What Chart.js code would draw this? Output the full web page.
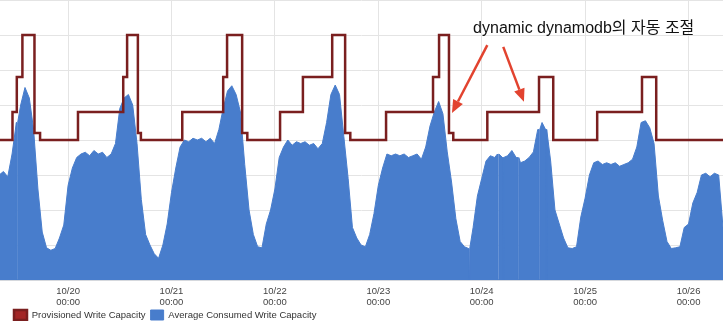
<!DOCTYPE html>
<html>
<head>
<meta charset="utf-8">
<script src="https://cdn.jsdelivr.net/npm/chart.js@4.4.0/dist/chart.umd.min.js"></script>
<style>
  html, body { margin: 0; padding: 0; background: #fff; }
  #wrap { width: 723px; height: 327px; position: relative; }
</style>
</head>
<body>
<div id="wrap"><canvas id="capacityChart"></canvas></div>
<script>
// hours counted from 10/20 00:00
const startHour = -16;
const axisMin = -15.8;
const axisMax = 152;

const dayHours = [0, 24, 48, 72, 96, 120, 144];
const dayLabels = ['10/20', '10/21', '10/22', '10/23', '10/24', '10/25', '10/26'];

// average consumed write capacity, one value per hour from startHour
const consumed = [
    3.0, 3.1, 2.95, 3.6, 4.5, 5.0, 5.5, 5.2, 4.3, 2.6, 1.37, 0.92, 0.85, 0.9, 1.2, 1.57,
    2.7, 3.2, 3.5, 3.6, 3.65, 3.55, 3.7, 3.6, 3.65, 3.5, 3.6, 3.9, 4.9, 5.2, 5.3, 5.0, 3.9, 2.3, 1.3, 1.0, 0.75, 0.62, 1.0, 1.6,
    2.5, 3.2, 3.8, 4.0, 3.95, 4.05, 4.0, 4.05, 3.95, 4.05, 3.9, 4.3, 4.9, 5.4, 5.55, 5.3, 4.8, 3.3, 2.0, 1.3, 0.95, 0.92, 1.6, 2.0,
    2.6, 3.5, 3.8, 4.0, 3.85, 3.95, 3.9, 3.95, 3.85, 3.9, 3.75, 3.9, 4.5, 5.3, 5.57, 5.3, 4.1, 2.9, 1.5, 1.2, 1.0, 0.95, 1.3, 1.9,
    2.7, 3.2, 3.6, 3.55, 3.6, 3.55, 3.6, 3.5, 3.55, 3.6, 3.45, 3.8, 4.4, 4.8, 5.1, 4.75, 3.66, 2.8, 1.75, 1.1, 0.95, 0.9, 1.5, 2.4,
    2.9, 3.4, 3.55, 3.5, 3.6, 3.5, 3.55, 3.7, 3.5, 3.35, 3.4, 3.5, 3.66, 4.3, 4.5, 4.3, 3.4, 2.0, 1.6, 1.2, 0.92, 0.9, 0.95, 1.8,
    2.34, 3.0, 3.35, 3.4, 3.3, 3.35, 3.3, 3.35, 3.25, 3.3, 3.35, 3.45, 3.8, 4.5, 4.55, 4.35, 3.9, 2.4, 1.7, 1.1, 0.9, 0.92, 0.95, 1.5,
    1.6, 2.2, 2.5, 3.0, 3.05, 2.95, 3.05, 3.0, 1.5
];

// short gaps where no data was reported
const dropoutHours = [-11.84, 93.08, 99.8, 100.97, 104.46, 109.33, 110.96];

// provisioned write capacity: level at the start, then each change
const provStart = 4.0;
const provChangeHours = [-12.9, -11.9, -10.6, -7.8, -6.5, 2.3, 12.8, 13.7, 16.2, 16.9,
    26.5, 36.0, 36.9, 40.4, 41.6, 49.2, 54.5, 61.3, 64.3, 65.5,
    73.8, 84.7, 86.1, 88.4, 89.4, 97.3, 109.3, 112.6, 122.8, 133.2, 136.5];
const provLevels = [4.8, 5.8, 7.0, 4.2, 4.0, 4.8, 5.8, 7.0, 4.2, 4.0,
    4.8, 5.8, 7.0, 4.2, 4.0, 4.8, 5.8, 7.0, 4.2, 4.0,
    4.8, 5.8, 7.0, 4.2, 4.0, 4.8, 5.8, 4.0, 4.8, 5.8, 4.0];

const noteText = 'dynamic dynamodb의 자동 조절';
const notePos = [94.0, 7.05];
// [fromHour, fromValue, toHour, toValue]
const arrows = [
    [97.3, 6.71, 89.1, 4.77],
    [101.0, 6.66, 105.8, 5.09]
];

// build point lists
let consumedPoints = consumed.map((v, i) => ({ x: startHour + i, y: v }));
dropoutHours.forEach(h => {
    let v = consumed[Math.round(h - startHour)];
    consumedPoints.push({ x: h - 0.14, y: v }, { x: h - 0.1, y: 0 }, { x: h + 0.1, y: 0 }, { x: h + 0.14, y: v });
});
consumedPoints.sort((a, b) => a.x - b.x);

let provPoints = [{ x: axisMin, y: provStart }];
let level = provStart;
provChangeHours.forEach((h, i) => {
    provPoints.push({ x: h, y: level });
    level = provLevels[i];
    provPoints.push({ x: h, y: level });
});
provPoints.push({ x: axisMax, y: level });

// text + red arrows
const notePlugin = {
    id: 'notePlugin',
    afterDatasetsDraw(chart) {
        let ctx = chart.ctx;
        let xs = chart.scales.x;
        let ys = chart.scales.y;
        ctx.save();
        ctx.font = '16px "Liberation Sans", "Noto Sans CJK KR", sans-serif';
        ctx.fillStyle = '#111';
        ctx.textBaseline = 'alphabetic';
        ctx.fillText(noteText, xs.getPixelForValue(notePos[0]), ys.getPixelForValue(notePos[1]));

        ctx.strokeStyle = '#e2432f';
        ctx.fillStyle = '#e2432f';
        ctx.lineWidth = 2.5;
        arrows.forEach(a => {
            let x1 = xs.getPixelForValue(a[0]), y1 = ys.getPixelForValue(a[1]);
            let x2 = xs.getPixelForValue(a[2]), y2 = ys.getPixelForValue(a[3]);
            let ang = Math.atan2(y2 - y1, x2 - x1);
            let headLen = 13, headW = 5.5;
            let bx = x2 - headLen * Math.cos(ang), by = y2 - headLen * Math.sin(ang);
            ctx.beginPath();
            ctx.moveTo(x1, y1);
            ctx.lineTo(bx, by);
            ctx.stroke();
            ctx.beginPath();
            ctx.moveTo(x2, y2);
            ctx.lineTo(bx + headW * Math.sin(ang), by - headW * Math.cos(ang));
            ctx.lineTo(bx - headW * Math.sin(ang), by + headW * Math.cos(ang));
            ctx.closePath();
            ctx.fill();
        });
        ctx.restore();
    }
};

// move the legend a little to the right
const legendNudge = {
    id: 'legendNudge',
    afterLayout(chart) {
        chart.legend.left += 9;
        chart.legend.right += 9;
    }
};

let ctx = document.getElementById('capacityChart').getContext('2d');
let capacityChart = new Chart(ctx, {
    type: 'line',
    data: {
        datasets: [{
            label: 'Provisioned Write Capacity',
            data: provPoints,
            borderColor: '#7a1f1f',
            backgroundColor: '#a32626',
            borderWidth: 2.5,
            pointRadius: 0,
            fill: false
        }, {
            label: 'Average Consumed Write Capacity',
            data: consumedPoints,
            borderColor: '#487dcc',
            backgroundColor: '#487dcc',
            borderWidth: 1,
            pointRadius: 0,
            fill: 'origin'
        }]
    },
    options: {
        responsive: true,
        maintainAspectRatio: false,
        animation: false,
        layout: { padding: { bottom: 6 } },
        plugins: {
            legend: {
                position: 'bottom',
                align: 'start',
                maxHeight: 16,
                labels: {
                    boxWidth: 13,
                    boxHeight: 10,
                    padding: 5,
                    color: '#333',
                    font: { family: '"Liberation Sans", Arial, sans-serif', size: 9.5 }
                }
            },
            tooltip: { enabled: false }
        },
        scales: {
            x: {
                type: 'linear',
                min: axisMin,
                max: axisMax,
                afterBuildTicks: scale => {
                    scale.ticks = dayHours.map(h => ({ value: h }));
                },
                afterFit: scale => {
                    scale.height = 25;
                },
                ticks: {
                    autoSkip: false,
                    maxRotation: 0,
                    padding: 5,
                    color: '#444',
                    font: { family: '"Liberation Sans", Arial, sans-serif', size: 9.5, lineHeight: 1.25 },
                    callback: (value) => {
                        let i = dayHours.indexOf(value);
                        return i < 0 ? '' : [dayLabels[i], '00:00'];
                    }
                },
                grid: { color: '#e4e4e4', drawTicks: false },
                border: { color: '#c6ccd6', width: 1.5 }
            },
            y: {
                min: 0,
                max: 8,
                ticks: { display: false, stepSize: 1 },
                grid: { color: '#e4e4e4', drawTicks: false },
                border: { display: false }
            }
        }
    },
    plugins: [notePlugin, legendNudge]
});
</script>
</body>
</html>
